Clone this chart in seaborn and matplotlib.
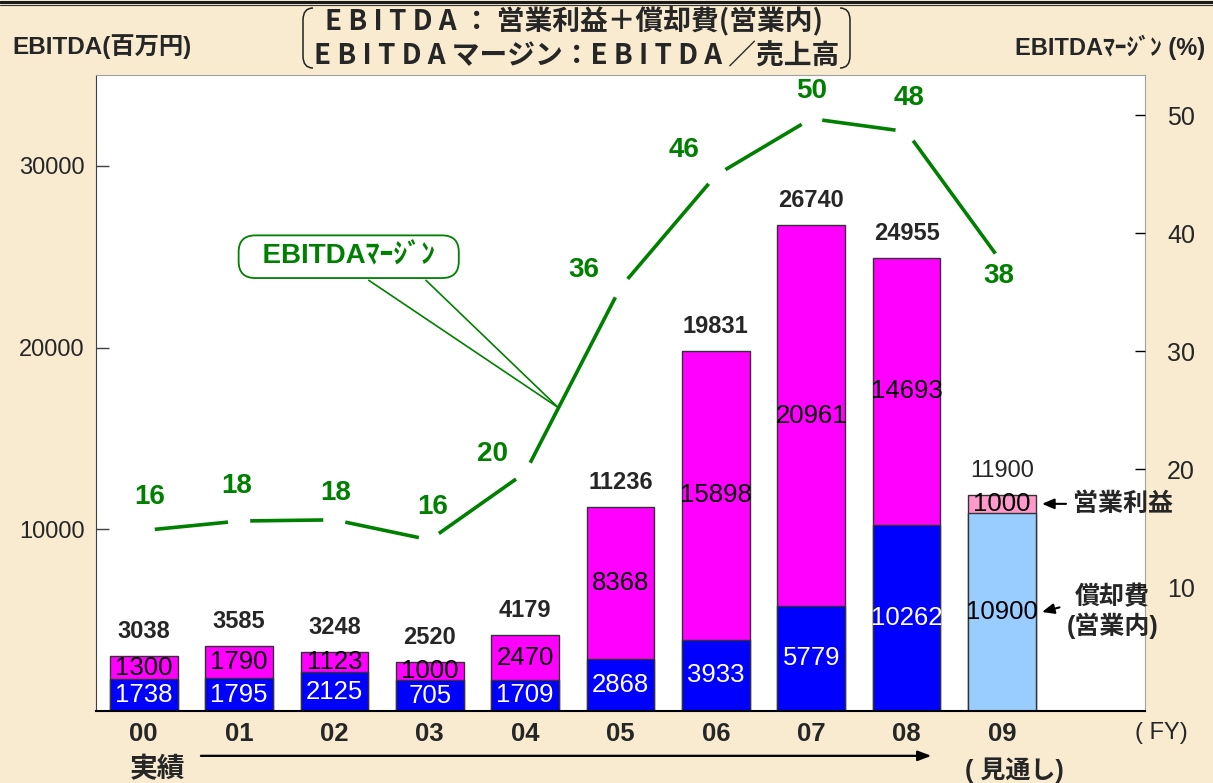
import numpy as np
import pandas as pd
import seaborn as sns
import matplotlib.pyplot as plt
from matplotlib.path import Path
from matplotlib.patches import PathPatch
from matplotlib.lines import Line2D

# values
fy = ['00', '01', '02', '03', '04', '05', '06', '07', '08', '09']
op_profit = [1300, 1790, 1123, 1000, 2470, 8368, 15898, 20961, 14693, 1000]
depreciation = [1738, 1795, 2125, 1700, 1709, 2868, 3933, 5779, 10262, 10900]
dep_text = [1738, 1795, 2125, 705, 1709, 2868, 3933, 5779, 10262, 10900]  # FY03 is printed as 705
ebitda = [3038, 3585, 3248, 2520, 4179, 11236, 19831, 26740, 24955, 11900]
margin_text = [16, 18, 18, 16, 20, 36, 46, 50, 48, 38]
margin_line = [14.8, 15.6, 15.7, 14.0, 19.7, 35.4, 44.9, 49.7, 48.6, 37.5]

# label offsets (pixels) of the margin numbers from their points
margin_off = [(6, 33), (-2, 35), (1, 27), (3, 33), (-33, 19), (-37, 17),
              (-32, 25), (0, 28), (2, 34), (-3, -13)]

sns.set_style('white')
plt.rcParams['font.family'] = ['Liberation Sans', 'Noto Sans CJK JP']

W, H = 1213, 783
bg = '#F8EBD0'
green = '#008000'
fig = plt.figure(figsize=(W / 100, H / 100), dpi=100, facecolor=bg)
ax = fig.add_axes([96 / W, 1 - 711 / H, (1145 - 96) / W, (711 - 75) / H])
ax.set_facecolor('white')

df = pd.DataFrame({'fy': fy, 'op': op_profit, 'dep': depreciation})
df['total'] = df['op'] + df['dep']
top_colors = ['#FF00FF'] * 9 + ['#FF99CC']
base_colors = ['#0000FF'] * 9 + ['#99CCFF']
sns.barplot(data=df, x='fy', y='total', hue='fy', palette=top_colors, legend=False,
            width=0.71, saturation=1, edgecolor='#333333', linewidth=1, ax=ax)
sns.barplot(data=df, x='fy', y='dep', hue='fy', palette=base_colors, legend=False,
            width=0.71, saturation=1, edgecolor='#333333', linewidth=1, ax=ax)

# numbers inside and on top of the bars
for i in range(len(fy)):
    last = i == len(fy) - 1
    ax.text(i, depreciation[i] / 2, str(dep_text[i]), ha='center', va='center',
            fontsize=18.5, color='black' if last else 'white')
    ax.text(i, depreciation[i] + op_profit[i] / 2, str(op_profit[i]), ha='center',
            va='center', fontsize=18.5, color='black')
    ax.annotate(str(ebitda[i]), (i, df['total'][i]), xytext=(0, 13), textcoords='offset pixels',
                ha='center', va='bottom', fontsize=17,
                fontweight='normal' if last else 'bold')

# margin line on the right axis
ax2 = ax.twinx()
xs = np.arange(len(fy))
sns.lineplot(x=xs, y=margin_line, ax=ax2, color=green, lw=2.6)
sns.scatterplot(x=xs, y=margin_line, ax=ax2, color='white', s=260, edgecolor='none', zorder=3)
for i in range(len(fy)):
    ax2.annotate(str(margin_text[i]), (i, margin_line[i]), xytext=margin_off[i],
                 textcoords='offset pixels', ha='center', va='center',
                 fontsize=20, fontweight='bold', color=green)

# callout: box plus two tail lines meeting on the line
xc = 4.35
tip = (xc, np.interp(xc, xs, margin_line))
for xb in (2.36, 2.96):
    ax2.annotate('', xy=tip, xytext=(xb, 36.0),
                 arrowprops=dict(arrowstyle='-', color=green, lw=1.2, shrinkA=0, shrinkB=0))
ax2.text(2.15, 38.0, '  EBITDAﾏｰｼﾞﾝ  ', ha='center', va='center', color=green,
         fontsize=20, fontweight='bold', zorder=6,
         bbox=dict(boxstyle='round,pad=0.3,rounding_size=0.6', fc='white', ec=green, lw=1.3))

# pointers to the FY09 bar
arrow_kw = dict(arrowstyle='-|>,head_length=0.4,head_width=0.17', color='black',
                lw=1.5, shrinkA=3, shrinkB=0)
ax.annotate('営業利益', xy=(9.42, depreciation[9] + op_profit[9] / 2),
            xytext=(9.75, depreciation[9] + op_profit[9] / 2),
            ha='left', va='center', fontsize=18, fontweight='bold', annotation_clip=False,
            arrowprops=dict(relpos=(0, 0.5), **arrow_kw))
ax.annotate('償却費\n(営業内)', xy=(9.42, depreciation[9] / 2), xytext=(9.68, depreciation[9] / 2),
            ha='left', va='center', multialignment='center', fontsize=18, fontweight='bold',
            linespacing=1.15, annotation_clip=False,
            arrowprops=dict(relpos=(0, 0.62), **arrow_kw))

# axes
ax.set_xlim(-0.5, 10.5)
ax.set_ylim(0, 35000)
ax2.set_ylim(-0.5, 53.4)
ax.set_xticks(xs)
ax.set_xticklabels(fy, fontweight='bold')
ax.set_xticks(np.arange(0.5, 10, 1), minor=True)
ax.set_yticks([10000, 20000, 30000])
ax2.set_yticks([10, 20, 30, 40, 50])
ax.set_xlabel('')
ax.set_ylabel('')
ax2.set_ylabel('')
ax.tick_params(axis='x', which='major', length=0, labelsize=18.5, pad=8)
ax.tick_params(axis='x', which='minor', direction='in', length=7, width=1, color='#404040')
ax.tick_params(axis='y', direction='in', length=9, width=1, color='#404040', labelsize=17, pad=8)
ax2.tick_params(axis='y', direction='in', length=7, width=1, color='black', labelsize=18, pad=16)

ax.spines['left'].set_color('#404040')
ax.spines['bottom'].set_color('black')
ax.spines['bottom'].set_linewidth(1.5)
for s in ['top', 'right']:
    ax.spines[s].set_color('#A0A0A0')
for s in ax2.spines.values():
    s.set_visible(False)

# texts under the axis
xt = ax.get_xaxis_transform()
ax.text(10.67, -0.0346, '( FY)', transform=xt, ha='center', va='center', fontsize=17)
ax.text(0.147, -0.093, '実績', transform=xt, ha='center', va='center', fontsize=20, fontweight='bold')
ax.text(9.13, -0.093, '( 見通し)', transform=xt, ha='center', va='center', fontsize=18, fontweight='bold')
ax.annotate('', xy=(8.26, -0.0705), xytext=(0.6, -0.0705), xycoords=xt, textcoords=xt,
            annotation_clip=False,
            arrowprops=dict(arrowstyle='-|>,head_length=0.8,head_width=0.3', color='black', lw=1.6,
                            shrinkA=0, shrinkB=0))

# axis titles and the definition box
fig.text(12 / W, 1 - 47 / H, 'EBITDA(百万円)', ha='left', va='center', fontsize=17.5, fontweight='bold')
fig.text(1205 / W, 1 - 47 / H, 'EBITDAﾏｰｼﾞﾝ (%)', ha='right', va='center', fontsize=17, fontweight='bold')
cjk = ['Noto Sans CJK JP']
fig.text(574 / W, 1 - 22 / H, 'E B I T D A ： 営業利益＋償却費(営業内)', ha='center', va='center',
         fontsize=20, fontweight='bold', family=cjk)
fig.text(577 / W, 1 - 56 / H, 'E B I T D A マージン：E B I T D A ／売上高', ha='center', va='center',
         fontsize=20, fontweight='bold', family=cjk)


def bracket(x0, x1):
    pts = [(x1, 8), (x0, 8), (x0, 20), (x0, 56), (x0, 68), (x1, 68)]
    verts = [(x / W, 1 - y / H) for x, y in pts]
    codes = [Path.MOVETO, Path.CURVE3, Path.CURVE3, Path.LINETO, Path.CURVE3, Path.CURVE3]
    fig.add_artist(PathPatch(Path(verts, codes), transform=fig.transFigure, fill=False,
                             ec='#222222', lw=1.1))


bracket(303, 313)
bracket(850, 840)

# double rule along the top
fig.add_artist(Line2D([0, 1], [1 - 1.5 / H] * 2, transform=fig.transFigure, color='#1a1a1a', lw=2.2))
fig.add_artist(Line2D([0, 1], [1 - 5 / H] * 2, transform=fig.transFigure, color='#333333', lw=0.8))

fig.savefig('out.png', dpi=100, facecolor=bg)
